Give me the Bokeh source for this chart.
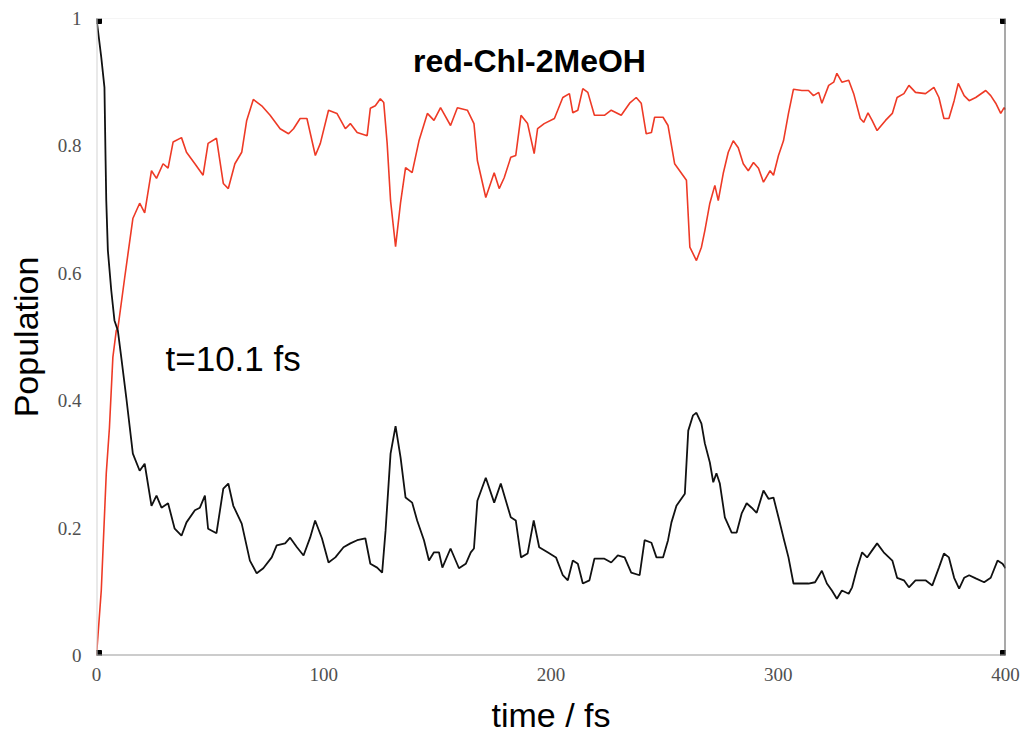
from bokeh.plotting import figure
from bokeh.models import Range1d, FixedTicker, PrintfTickFormatter, Label, Span
from bokeh.embed import file_html
from bokeh.resources import INLINE

# ---- data ----
red_time = [0, 2.1, 4.3, 5.7, 7.2, 8.7, 9.4, 12.4, 16.0, 19.0,
            21.2, 24.2, 26.4, 29.3, 31.5, 33.7, 37.4, 39.6, 43.3, 46.9,
            49.1, 52.8, 55.8, 58.0, 60.9, 63.9, 66.1, 69.0, 72.7, 76.4,
            80.8, 84.5, 86.7, 89.6, 92.6, 96.3, 98.5, 102.1, 105.8, 109.5,
            111.7, 114.7, 119.1, 120.5, 122.7, 124.9, 126.4, 127.9, 129.4, 131.6,
            133.8, 136.0, 138.9, 141.9, 145.6, 148.5, 151.4, 155.8, 158.8, 163.2,
            166.1, 167.6, 171.3, 175.0, 177.2, 179.4, 182.3, 184.5, 186.8, 189.7,
            192.6, 194.1, 197.0, 201.5, 205.2, 208.1, 209.6, 211.8, 214.0, 216.2,
            219.1, 223.5, 226.5, 230.9, 234.6, 237.5, 239.7, 241.9, 244.2, 245.6,
            249.3, 251.5, 254.4, 257.4, 259.6, 261.1, 264.0, 266.2, 267.7, 269.9,
            272.1, 273.6, 275.8, 278.0, 280.2, 282.4, 284.6, 286.8, 289.1, 291.3,
            293.5, 296.4, 297.9, 300.1, 302.3, 304.5, 306.7, 310.4, 313.3, 315.5,
            317.8, 319.2, 322.2, 324.4, 325.8, 328.0, 331.0, 333.2, 336.1, 337.6,
            339.5, 341.3, 343.5, 347.2, 350.2, 352.3, 355.3, 357.5, 360.4, 364.8,
            368.5, 370.7, 372.9, 375.1, 377.4, 379.2, 381.8, 384.0, 386.9, 391.3,
            393.5, 395.7, 397.9, 399.4, 400]
red_pop = [0.0, 0.102, 0.286, 0.358, 0.468, 0.510, 0.513, 0.593, 0.686, 0.710,
           0.695, 0.761, 0.749, 0.772, 0.765, 0.806, 0.813, 0.790, 0.772, 0.754,
           0.804, 0.812, 0.741, 0.733, 0.772, 0.790, 0.840, 0.873, 0.863, 0.848,
           0.827, 0.819, 0.827, 0.843, 0.843, 0.785, 0.804, 0.856, 0.851, 0.827,
           0.835, 0.821, 0.816, 0.859, 0.863, 0.874, 0.868, 0.804, 0.714, 0.642,
           0.711, 0.766, 0.758, 0.808, 0.851, 0.840, 0.860, 0.832, 0.860, 0.856,
           0.835, 0.777, 0.719, 0.758, 0.733, 0.750, 0.782, 0.785, 0.848, 0.835,
           0.788, 0.827, 0.835, 0.843, 0.876, 0.882, 0.852, 0.856, 0.890, 0.884,
           0.848, 0.848, 0.856, 0.848, 0.867, 0.876, 0.867, 0.819, 0.821, 0.845,
           0.845, 0.832, 0.772, 0.757, 0.746, 0.641, 0.620, 0.641, 0.667, 0.710,
           0.738, 0.714, 0.757, 0.790, 0.808, 0.797, 0.772, 0.761, 0.774, 0.765,
           0.743, 0.761, 0.754, 0.785, 0.808, 0.851, 0.889, 0.887, 0.887, 0.879,
           0.884, 0.867, 0.895, 0.900, 0.914, 0.900, 0.903, 0.882, 0.843, 0.837,
           0.852, 0.840, 0.824, 0.840, 0.851, 0.876, 0.882, 0.895, 0.884, 0.882,
           0.892, 0.876, 0.843, 0.843, 0.871, 0.898, 0.879, 0.871, 0.876, 0.887,
           0.879, 0.867, 0.851, 0.860, 0.857]

black_time = [0, 2.1, 3.5, 4.0, 4.3, 5.0, 6.5, 7.9, 9.4, 10.9,
              13.1, 16.0, 19.0, 21.2, 24.2, 26.4, 28.6, 31.5, 34.4, 37.4,
              39.6, 43.3, 45.5, 47.7, 49.1, 52.8, 55.8, 58.0, 60.2, 63.9,
              67.5, 70.5, 73.4, 77.1, 79.3, 83.0, 85.2, 88.2, 91.1, 94.0,
              96.2, 99.2, 102.1, 105.1, 108.7, 111.7, 114.7, 118.3, 120.5, 123.5,
              125.7, 127.2, 129.4, 131.6, 133.8, 136.0, 138.9, 141.1, 144.1, 146.3,
              148.5, 150.7, 152.2, 155.8, 159.5, 162.5, 164.7, 166.1, 167.6, 171.3,
              175.0, 177.9, 182.3, 184.5, 186.8, 189.7, 192.4, 194.8, 198.5, 202.2,
              205.2, 207.4, 209.6, 211.8, 214.0, 216.9, 219.1, 223.5, 226.5, 229.4,
              232.4, 235.3, 239.0, 241.2, 244.2, 246.4, 249.3, 251.5, 253.0, 255.2,
              258.9, 260.4, 262.5, 264.0, 266.2, 267.7, 269.9, 271.4, 272.8, 274.3,
              276.5, 279.5, 281.7, 283.9, 286.1, 288.3, 290.5, 293.5, 295.7, 297.9,
              300.1, 302.3, 304.5, 306.7, 310.4, 313.3, 316.2, 319.2, 321.4, 323.6,
              325.8, 328.0, 331.0, 332.5, 334.7, 336.9, 339.1, 341.3, 343.5, 346.4,
              350.2, 352.3, 355.3, 357.5, 360.4, 364.8, 367.8, 370.7, 372.9, 375.1,
              377.4, 379.6, 381.8, 384.0, 386.9, 390.6, 393.5, 396.5, 398.7, 400]
black_pop = [1.0, 0.939, 0.892, 0.777, 0.714, 0.636, 0.573, 0.526, 0.510, 0.468,
             0.405, 0.317, 0.290, 0.301, 0.235, 0.251, 0.232, 0.239, 0.199, 0.188,
             0.209, 0.228, 0.232, 0.251, 0.199, 0.192, 0.262, 0.270, 0.235, 0.207,
             0.149, 0.129, 0.137, 0.154, 0.173, 0.176, 0.185, 0.170, 0.157, 0.185,
             0.212, 0.184, 0.146, 0.154, 0.170, 0.176, 0.181, 0.184, 0.144, 0.138,
             0.130, 0.196, 0.317, 0.360, 0.311, 0.248, 0.240, 0.212, 0.181, 0.149,
             0.162, 0.162, 0.138, 0.168, 0.137, 0.144, 0.162, 0.168, 0.243, 0.279,
             0.240, 0.270, 0.217, 0.212, 0.154, 0.160, 0.212, 0.170, 0.162, 0.154,
             0.126, 0.118, 0.149, 0.144, 0.113, 0.118, 0.152, 0.152, 0.146, 0.157,
             0.154, 0.130, 0.126, 0.181, 0.177, 0.154, 0.154, 0.181, 0.209, 0.235,
             0.254, 0.353, 0.377, 0.381, 0.364, 0.333, 0.303, 0.272, 0.286, 0.270,
             0.217, 0.193, 0.193, 0.223, 0.239, 0.232, 0.224, 0.259, 0.246, 0.248,
             0.217, 0.185, 0.154, 0.113, 0.113, 0.113, 0.115, 0.133, 0.113, 0.102,
             0.089, 0.102, 0.097, 0.107, 0.137, 0.162, 0.154, 0.165, 0.176, 0.162,
             0.149, 0.122, 0.118, 0.107, 0.118, 0.118, 0.110, 0.138, 0.160, 0.154,
             0.122, 0.105, 0.122, 0.126, 0.121, 0.115, 0.122, 0.149, 0.144, 0.137]

x_ticks = [0, 100, 200, 300, 400]
y_ticks = [0, 0.2, 0.4, 0.6, 0.8, 1]
title_text = "red-Chl-2MeOH"
note_text = "t=10.1 fs"
x_title = "time / fs"
y_title = "Population"

# ---- figure ----
p = figure(width=1020, height=736, output_backend="svg", toolbar_location=None,
           x_range=Range1d(0, 400), y_range=Range1d(0, 1),
           min_border_left=96, min_border_right=15, min_border_top=18, min_border_bottom=81)
p.outline_line_color = None
p.grid.visible = False
p.background_fill_color = "white"

for ax in (p.xaxis[0], p.yaxis[0]):
    ax.axis_line_color = None
    ax.major_tick_line_color = None
    ax.minor_tick_line_color = None
    ax.major_label_text_font = "Liberation Serif"
    ax.major_label_text_font_size = "19px"
    ax.major_label_text_color = "#505050"
    ax.axis_label_text_font = "Liberation Sans"
    ax.axis_label_text_font_size = "34px"
    ax.axis_label_text_font_style = "normal"
    ax.axis_label_text_color = "black"
p.xaxis[0].ticker = FixedTicker(ticks=x_ticks)
p.yaxis[0].ticker = FixedTicker(ticks=y_ticks)
p.yaxis[0].formatter = PrintfTickFormatter(format="%g")
p.xaxis[0].major_label_standoff = 6
p.yaxis[0].major_label_standoff = 9
p.xaxis[0].axis_label = x_title
p.yaxis[0].axis_label = y_title
p.xaxis[0].axis_label_standoff = 12
p.yaxis[0].axis_label_standoff = 10

# frame lines
p.add_layout(Span(location=1, dimension="width", line_color="#ececec", line_width=1))
p.add_layout(Span(location=0, dimension="height", line_color="#d4d4d4", line_width=2))
p.add_layout(Span(location=0, dimension="width", line_color="#9a9a9a", line_width=2))
p.add_layout(Span(location=400, dimension="height", line_color="#555555", line_width=2))

# curves
p.line(red_time, red_pop, line_color="#ee3a26", line_width=1.6)
p.line(black_time, black_pop, line_color="#111111", line_width=1.8)

# corner markers
cx = [x_ticks[0], x_ticks[0], x_ticks[-1], x_ticks[-1]]
cy = [y_ticks[0], y_ticks[-1], y_ticks[0], y_ticks[-1]]
p.scatter(cx, cy, marker="square", size=10, fill_color="black", line_color="black")

# texts inside the frame (screen offsets relative to the frame's lower-left corner)
p.add_layout(Label(x=433, y=595, x_units="screen", y_units="screen", text=title_text,
                   text_font="Liberation Sans", text_font_style="bold", text_font_size="32px",
                   text_align="center", text_baseline="alphabetic", text_color="black"))
p.add_layout(Label(x=69, y=297, x_units="screen", y_units="screen", text=note_text,
                   text_font="Liberation Sans", text_font_size="35px",
                   text_align="left", text_baseline="alphabetic", text_color="black"))

open("out.html", "w").write(file_html(p, INLINE))
